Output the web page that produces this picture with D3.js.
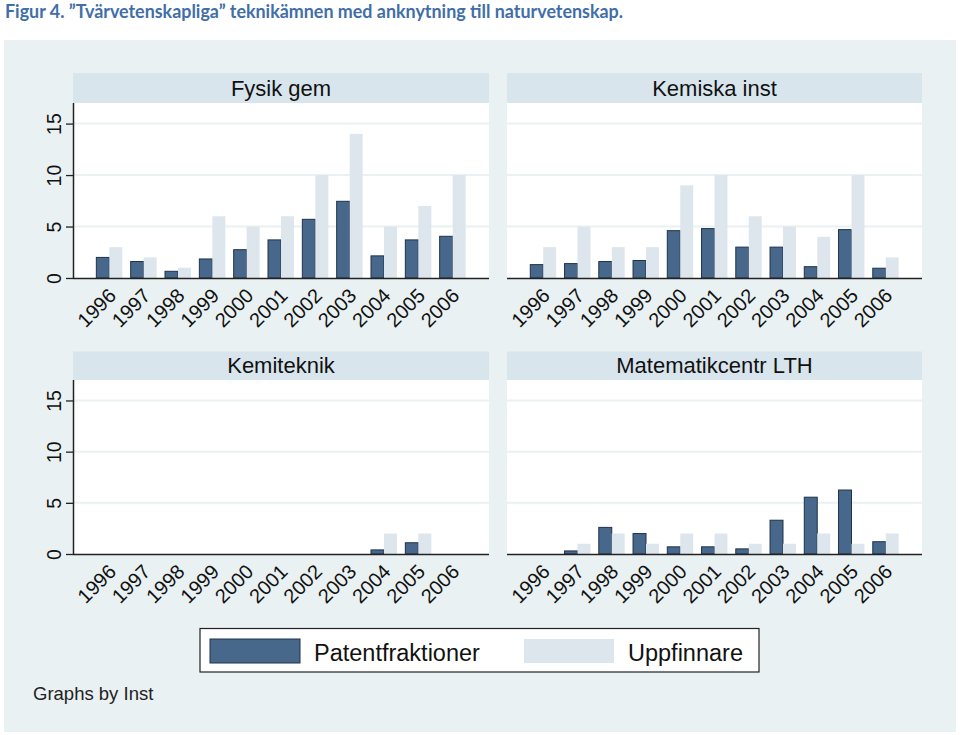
<!DOCTYPE html>
<html>
<head>
<meta charset="utf-8">
<script src="https://cdn.jsdelivr.net/npm/d3@7"></script>
<style>
  html, body { margin: 0; padding: 0; background: #ffffff; }
  svg { display: block; }
</style>
</head>
<body>
<script>
// ---------------- DATA ----------------
const years = ["1996","1997","1998","1999","2000","2001","2002","2003","2004","2005","2006"];
const panelTitles = ["Fysik gem", "Kemiska inst", "Kemiteknik", "Matematikcentr LTH"];
const seriesNames = ["Patentfraktioner", "Uppfinnare"];
const yTicks = [0, 5, 10, 15];

const fysikPatent   = [2.0, 1.6, 0.65, 1.85, 2.75, 3.7, 5.7, 7.45, 2.15, 3.7, 4.05];
const fysikUppf     = [3, 2, 1, 6, 5, 6, 10, 14, 5, 7, 10];
const kemiskaPatent = [1.3, 1.4, 1.6, 1.7, 4.6, 4.8, 3.0, 3.0, 1.1, 4.7, 0.95];
const kemiskaUppf   = [3, 5, 3, 3, 9, 10, 6, 5, 4, 10, 2];
const kemitekPatent = [0, 0, 0, 0, 0, 0, 0, 0, 0.4, 1.1, 0];
const kemitekUppf   = [0, 0, 0, 0, 0, 0, 0, 0, 2, 2, 0];
const matPatent     = [0, 0.3, 2.6, 2.0, 0.7, 0.7, 0.5, 3.3, 5.55, 6.25, 1.2];
const matUppf       = [0, 1, 2, 1, 2, 2, 1, 1, 2, 1, 2];

const panelPatent = [fysikPatent, kemiskaPatent, kemitekPatent, matPatent];
const panelUppf   = [fysikUppf, kemiskaUppf, kemitekUppf, matUppf];

// ---------------- LAYOUT ----------------
const W = 960, H = 735;
const colX = [[73, 489], [507, 922]];
const rowY = [{head: 73, top: 103, bottom: 278}, {head: 351.5, top: 380, bottom: 554}];
const yMax = 17;

const colDark = "#48688b", colDarkStroke = "#1e334c", colLight = "#dee6ed";
const bgOuter = "#eaf1f3", headFill = "#d9e5ec", gridCol = "#eaf1f3";
const fontSans = "'Liberation Sans', Arial, sans-serif";

const svg = d3.select("body").append("svg").attr("width", W).attr("height", H);

svg.append("rect").attr("x", 0).attr("y", 0).attr("width", W).attr("height", H).attr("fill", "#ffffff");
svg.append("rect").attr("x", 4).attr("y", 40).attr("width", 952).attr("height", 692).attr("fill", bgOuter);

// Figure title
svg.append("text")
  .attr("x", 5).attr("y", 18)
  .attr("font-family", "Lato, 'Open Sans', sans-serif")
  .attr("font-weight", "bold")
  .attr("font-size", 18)
  .attr("fill", "#3f6ea8")
  .attr("textLength", 618)
  .attr("lengthAdjust", "spacingAndGlyphs")
  .text("Figur 4. ”Tvärvetenskapliga” teknikämnen med anknytning till naturvetenskap.");

panelTitles.forEach((title, i) => {
  const c = i % 2, r = Math.floor(i / 2);
  const [x0, x1] = colX[c];
  const R = rowY[r];
  const g = svg.append("g");

  // header strip
  g.append("rect").attr("x", x0).attr("y", R.head).attr("width", x1 - x0).attr("height", R.top - R.head).attr("fill", headFill);
  g.append("text")
    .attr("x", (x0 + x1) / 2).attr("y", R.top - 7.5)
    .attr("text-anchor", "middle")
    .attr("font-family", fontSans).attr("font-size", 22).attr("fill", "#111")
    .text(title);

  // plot bg
  g.append("rect").attr("x", x0).attr("y", R.top).attr("width", x1 - x0).attr("height", R.bottom - R.top).attr("fill", "#ffffff");

  const y = d3.scaleLinear().domain([0, yMax]).range([R.bottom, R.top]);
  const x = d3.scaleBand().domain(years).range([x0, x1]).paddingInner(0.243).paddingOuter(0.68);
  const xs = d3.scaleBand().domain(seriesNames).range([0, x.bandwidth()]);

  // grid
  g.selectAll("line.grid").data(yTicks.filter(t => t > 0)).enter().append("line")
    .attr("x1", x0).attr("x2", x1)
    .attr("y1", d => y(d)).attr("y2", d => y(d))
    .attr("stroke", gridCol).attr("stroke-width", 2);

  // bars
  const pat = panelPatent[i], upp = panelUppf[i];
  const rows = years.map((yr, k) => ({yr, vals: [pat[k], upp[k]]}));
  const grp = g.selectAll("g.yr").data(rows).enter().append("g").attr("transform", d => `translate(${x(d.yr)},0)`);
  grp.selectAll("rect").data(d => d.vals.map((v, s) => ({v, s})).filter(o => o.v > 0)).enter().append("rect")
    .attr("x", d => xs(seriesNames[d.s]))
    .attr("width", xs.bandwidth())
    .attr("y", d => y(d.v))
    .attr("height", d => y(0) - y(d.v))
    .attr("fill", d => d.s === 0 ? colDark : colLight)
    .attr("stroke", d => d.s === 0 ? colDarkStroke : "none")
    .attr("stroke-width", 1);

  // x axis
  const xAxis = d3.axisBottom(x).tickSize(0).tickPadding(0);
  const xg = g.append("g").attr("transform", `translate(0,${R.bottom})`).call(xAxis);
  xg.select(".domain").attr("d", `M${x0},0.5H${x1}`).attr("stroke", "#222").attr("stroke-width", 1.5);
  xg.selectAll(".tick text")
    .attr("font-family", fontSans).attr("font-size", 20).attr("fill", "#111")
    .attr("text-anchor", "end")
    .attr("dy", "0.35em")
    .attr("transform", "translate(3,14) rotate(-45)");

  // y axis (left column only)
  if (c === 0) {
    const yAxis = d3.axisLeft(y).tickValues(yTicks).tickSize(7).tickPadding(10);
    const yg = g.append("g").attr("transform", `translate(${x0},0)`).call(yAxis);
    yg.select(".domain").attr("d", `M0.5,${R.top}V${R.bottom}`).attr("stroke", "#222").attr("stroke-width", 1.5);
    yg.selectAll(".tick line").attr("stroke", "#222").attr("stroke-width", 1.3);
    yg.selectAll(".tick text")
      .attr("font-family", fontSans).attr("font-size", 19.5).attr("fill", "#111")
      .attr("text-anchor", "middle")
      .attr("x", 0).attr("dy", 0)
      .attr("transform", "translate(-19,0) rotate(-90) translate(0,7)");
  }
});

// Legend
const lg = svg.append("g");
lg.append("rect").attr("x", 200).attr("y", 628.5).attr("width", 559).attr("height", 43.5)
  .attr("fill", "#ffffff").attr("stroke", "#222").attr("stroke-width", 1.2);
const legendItems = seriesNames.map((n, s) => ({n, s}));
const legX = d3.scaleOrdinal().domain(seriesNames).range([210, 524]);
lg.selectAll("rect.sw").data(legendItems).enter().append("rect")
  .attr("x", d => legX(d.n)).attr("y", 639).attr("width", 90).attr("height", 24)
  .attr("fill", d => d.s === 0 ? colDark : colLight)
  .attr("stroke", d => d.s === 0 ? colDarkStroke : "none");
lg.selectAll("text").data(legendItems).enter().append("text")
  .attr("x", d => legX(d.n) + 104).attr("y", 660.5)
  .attr("font-family", fontSans).attr("font-size", 23.5).attr("fill", "#111")
  .text(d => d.n);

svg.append("text").attr("x", 33).attr("y", 700)
  .attr("font-family", fontSans).attr("font-size", 18.5).attr("fill", "#222")
  .text("Graphs by Inst");
</script>
</body>
</html>
